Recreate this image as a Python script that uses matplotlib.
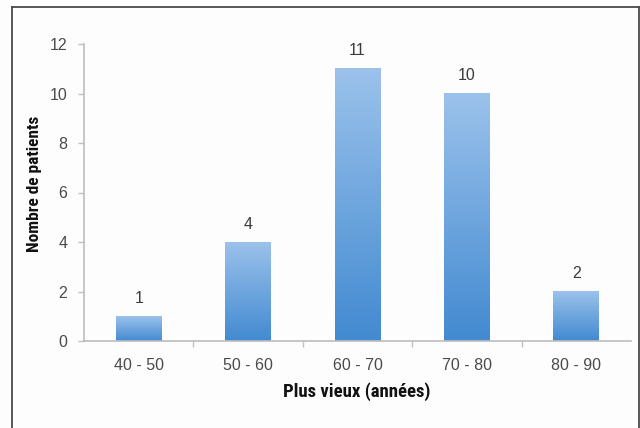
import numpy as np
import matplotlib
matplotlib.use("Agg")
import matplotlib.pyplot as plt
from matplotlib.lines import Line2D
from matplotlib import font_manager

categories = ["40 - 50", "50 - 60", "60 - 70", "70 - 80", "80 - 90"]
patients = [1, 4, 11, 10, 2]
y_ticks = [0, 2, 4, 6, 8, 10, 12]

W, H = 640, 428
fig = plt.figure(figsize=(W / 100, H / 100), dpi=100, facecolor="#fdfdfd")

def px_to_fig(x, y):
    return x / W, 1 - y / H

names = {f.name for f in font_manager.fontManager.ttflist}
label_family = [n for n in ["Liberation Sans Narrow", "Roboto Condensed", "DejaVu Sans Condensed", "DejaVu Sans"] if n in names]
tick_family = [n for n in ["Liberation Sans", "DejaVu Sans"] if n in names]

left, right = 84 / W, 631 / W
bottom, top = 1 - 341 / H, 1 - 44 / H
ax = fig.add_axes([left, bottom, right - left, top - bottom])
ax.set_facecolor("none")

x = np.arange(len(categories))
bars = ax.bar(x, patients, width=0.42, color="none", edgecolor="none", zorder=2)

# vertical gradient fill: light blue at top, deeper blue at bottom
grad = np.linspace(0, 1, 256)
top_c = np.array([0x9b, 0xc2, 0xeb]) / 255
bot_c = np.array([0x42, 0x8a, 0xd1]) / 255
img = np.zeros((256, 1, 3))
for k in range(3):
    img[:, 0, k] = top_c[k] + (bot_c[k] - top_c[k]) * grad
for b in bars:
    x0, y0 = b.get_x(), b.get_y()
    w, h = b.get_width(), b.get_height()
    ax.imshow(img, extent=[x0, x0 + w, y0, y0 + h], origin="upper",
              aspect="auto", zorder=2, interpolation="bilinear")

for xi, v in zip(x, patients):
    ax.text(xi, v + 0.42, str(v), ha="center", va="bottom", fontsize=11.5,
            color="#3a3a3a", family=tick_family)

ax.set_xlim(-0.5, len(categories) - 0.5)
ax.set_ylim(0, 12)
ax.set_yticks(y_ticks)
ax.set_yticklabels([str(t) for t in y_ticks], family=tick_family)
ax.set_xticks(x)
ax.set_xticklabels(categories, family=tick_family)
ax.set_xticks(np.arange(0.5, len(categories) - 0.5, 1), minor=True)
ax.tick_params(axis="x", which="major", length=0, pad=12, labelsize=11.5, labelcolor="#4a4a4a")
ax.tick_params(axis="x", which="minor", length=4, color="#c0c0c0", width=1)
ax.tick_params(axis="y", length=4, color="#c0c0c0", width=1, pad=8, labelsize=11.5, labelcolor="#4a4a4a")

for s in ["top", "right"]:
    ax.spines[s].set_visible(False)
for s in ["left", "bottom"]:
    ax.spines[s].set_color("#bdbdbd")
    ax.spines[s].set_linewidth(1.2)

fig.text(35 / W, 1 - 184 / H, "Nombre de patients", rotation=90, ha="center", va="center",
         fontsize=12.5, fontweight="bold", color="#111111", family=label_family)
fig.text(357 / W, 1 - 392 / H, "Plus vieux (années)", ha="center", va="center",
         fontsize=13.5, fontweight="bold", color="#111111", family=label_family)

# outer frame: left, top and right edges
frame_c = "#4a4a4a"
for (xa, ya), (xb, yb) in [((12, 428), (12, 7)), ((12, 7), (639, 7)), ((639, 7), (639, 428))]:
    p0, p1 = px_to_fig(xa, ya), px_to_fig(xb, yb)
    fig.add_artist(Line2D([p0[0], p1[0]], [p0[1], p1[1]], color=frame_c, lw=1.3,
                          transform=fig.transFigure))

fig.savefig("out.png", dpi=100, facecolor=fig.get_facecolor())
